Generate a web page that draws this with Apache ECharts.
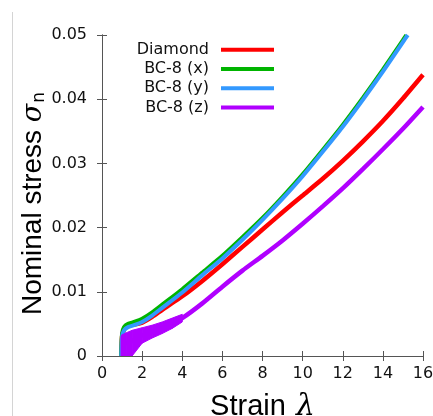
<!DOCTYPE html>
<html>
<head>
<meta charset="utf-8">
<script src="https://cdn.jsdelivr.net/npm/echarts@6/dist/echarts.min.js"></script>
<style>
  html, body { margin: 0; padding: 0; background: #fff; }
  #chart { width: 433px; height: 416px; }
</style>
</head>
<body>
<div id="chart"></div>
<script>
// Nominal stress versus strain for diamond and BC-8 (three loading directions)
const seriesNames = ['Diamond', 'BC-8 (x)', 'BC-8 (y)', 'BC-8 (z)'];
const seriesColors = ['#ff0000', '#00b400', '#3399ff', '#b000ff'];

const xTicks = [0, 2, 4, 6, 8, 10, 12, 14, 16];
const yTicks = [0, 0.01, 0.02, 0.03, 0.04, 0.05];

const lambdaDiamond = [0.97, 1.0, 1.1, 1.25, 1.6, 2, 2.5, 3, 4, 5, 6, 7, 8, 9, 10, 11, 12, 13, 14, 15, 16];
const sigmaDiamond  = [0, 0.0030, 0.0041, 0.0048, 0.0049, 0.0052, 0.0061, 0.0072, 0.0093, 0.0117, 0.0143, 0.0170, 0.0197, 0.0224, 0.0250, 0.0276, 0.0304, 0.0334, 0.0366, 0.0401, 0.0438];

const lambdaX = [0.95, 1.0, 1.1, 1.3, 1.6, 2, 2.5, 3, 4, 5, 6, 7, 8, 9, 10, 11, 12, 13, 14, 15, 15.17];
const sigmaX  = [0, 0.0035, 0.0045, 0.0050, 0.0053, 0.0058, 0.0068, 0.0080, 0.0104, 0.0130, 0.0156, 0.0185, 0.0215, 0.0248, 0.0283, 0.0321, 0.0360, 0.0402, 0.0446, 0.0492, 0.0500];

const lambdaY = [0.96, 1.0, 1.1, 1.3, 1.6, 2, 2.5, 3, 4, 5, 6, 7, 8, 9, 10, 11, 12, 13, 14, 15, 15.24];
const sigmaY  = [0, 0.0030, 0.0040, 0.0045, 0.0048, 0.0053, 0.0063, 0.0075, 0.0099, 0.0126, 0.0152, 0.0181, 0.0212, 0.0245, 0.0280, 0.0318, 0.0357, 0.0399, 0.0443, 0.0489, 0.0500];

const lambdaZ = [1.0, 1.2, 1.5, 2, 2.5, 3, 3.5, 4, 5, 6, 7, 8, 9, 10, 11, 12, 13, 14, 15, 16];
const sigmaZ  = [0.0018, 0.0020, 0.0024, 0.0032, 0.0038, 0.0044, 0.0051, 0.0059, 0.0082, 0.0108, 0.0133, 0.0156, 0.0180, 0.0206, 0.0233, 0.0261, 0.0291, 0.0322, 0.0354, 0.0388];

// scatter of the z-direction data at small strain (lower and upper edge)
const lambdaZSpread = [0.95, 1.0, 1.2, 1.5, 2.0, 2.5, 3.0, 3.5, 4.0];
const sigmaZLow     = [0, 0, 0, 0, 0.0020, 0.0028, 0.0035, 0.0043, 0.0053];
const sigmaZHigh    = [0.0030, 0.0033, 0.0036, 0.0040, 0.0044, 0.0048, 0.0053, 0.0059, 0.0065];

const pairs = (xs, ys) => xs.map((x, i) => [x, ys[i]]);

const curves = [
  [lambdaDiamond, sigmaDiamond],
  [lambdaX, sigmaX],
  [lambdaY, sigmaY],
  [lambdaZ, sigmaZ]
];
const lineWidths = [4.5, 4, 4, 4.5];

const axisColor = '#555';
const tickFont = 'DejaVu Sans, Verdana, sans-serif';
const titleFont = 'Liberation Sans, Arial, sans-serif';

const lineSeries = curves.map((c, i) => ({
  name: seriesNames[i],
  type: 'line',
  data: pairs(c[0], c[1]),
  showSymbol: false,
  smooth: 0.2,
  clip: true,
  color: seriesColors[i],
  lineStyle: { width: lineWidths[i], color: seriesColors[i] },
  z: 2 + i
}));

// band between the lower and upper edge of the z-direction scatter,
// one quadrilateral per pair of neighbouring samples
const spreadSegments = lambdaZSpread.slice(0, -1).map((x, i) => [
  x, sigmaZLow[i], sigmaZHigh[i],
  lambdaZSpread[i + 1], sigmaZLow[i + 1], sigmaZHigh[i + 1]
]);

const spreadSeries = {
  type: 'custom',
  data: spreadSegments,
  silent: true,
  clip: true,
  z: 6,
  renderItem: (params, api) => {
    const p1 = api.coord([api.value(0), api.value(1)]);
    const p2 = api.coord([api.value(3), api.value(4)]);
    const p3 = api.coord([api.value(3), api.value(5)]);
    const p4 = api.coord([api.value(0), api.value(2)]);
    return {
      type: 'polygon',
      shape: { points: [p1, p2, p3, p4] },
      style: { fill: seriesColors[3], stroke: seriesColors[3], lineWidth: 1 }
    };
  },
  encode: { x: [0, 3], y: [1, 2, 4, 5] }
};

const chart = echarts.init(document.getElementById('chart'), null, { renderer: 'canvas' });

const frameAxis = {
  axisLine: { show: true, lineStyle: { color: axisColor, width: 1 } },
  axisTick: { show: true, inside: true, length: 5, lineStyle: { color: axisColor } },
  splitLine: { show: false }
};

chart.setOption({
  animation: false,
  backgroundColor: '#fff',
  grid: {
    left: 102, top: 35, width: 321, height: 321,
    containLabel: false,
    outerBoundsMode: 'none'
  },
  legend: {
    data: seriesNames,
    orient: 'vertical',
    right: 159,
    top: 40,
    padding: 0,
    align: 'right',
    icon: 'rect',
    itemWidth: 53,
    itemHeight: 4,
    itemGap: 0,
    selectedMode: false,
    textStyle: {
      fontSize: 16,
      fontFamily: tickFont,
      color: '#111',
      lineHeight: 19.3,
      padding: [0, 7, 0, 0]
    }
  },
  xAxis: [
    Object.assign({
      type: 'value',
      min: xTicks[0],
      max: xTicks[xTicks.length - 1],
      interval: 2,
      position: 'bottom',
      name: '{a|Strain }{l|λ}',
      nameLocation: 'middle',
      nameGap: 36,
      nameTextStyle: {
        rich: {
          a: { fontSize: 29, fontFamily: titleFont, color: '#000' },
          l: { fontSize: 30, fontFamily: 'DejaVu Serif, serif', fontStyle: 'italic', color: '#000', padding: [0, 0, 0, 2] }
        }
      },
      axisLabel: {
        show: true,
        margin: 10,
        fontSize: 16,
        fontFamily: tickFont,
        color: '#111',
        formatter: v => String(v)
      }
    }, frameAxis),
    Object.assign({
      type: 'value',
      min: xTicks[0],
      max: xTicks[xTicks.length - 1],
      interval: 2,
      position: 'top',
      axisLabel: { show: false }
    }, frameAxis)
  ],
  yAxis: [
    Object.assign({
      type: 'value',
      min: yTicks[0],
      max: yTicks[yTicks.length - 1],
      interval: 0.01,
      position: 'left',
      name: '{a|Nominal stress }{s|σ}{n|n}',
      nameLocation: 'middle',
      nameGap: 54,
      nameMoveOverlap: false,
      nameTextStyle: {
        rich: {
          a: { fontSize: 28, fontFamily: titleFont, color: '#000' },
          s: { fontSize: 27, fontFamily: 'DejaVu Serif, serif', fontStyle: 'italic', color: '#000' },
          n: { fontSize: 17, fontFamily: 'DejaVu Sans, sans-serif', color: '#000', padding: [12, 16, 0, 1] }
        }
      },
      axisLabel: {
        show: true,
        margin: 15,
        fontSize: 16,
        fontFamily: tickFont,
        color: '#111',
        formatter: v => (v === 0 ? '0' : v.toFixed(2))
      }
    }, frameAxis),
    Object.assign({
      type: 'value',
      min: yTicks[0],
      max: yTicks[yTicks.length - 1],
      interval: 0.01,
      position: 'right',
      axisLabel: { show: false }
    }, frameAxis)
  ],
  graphic: [
    {
      type: 'line',
      shape: { x1: 12.5, y1: 12, x2: 12.5, y2: 416 },
      style: { stroke: '#d4d4d4', lineWidth: 1 },
      silent: true
    }
  ],
  series: lineSeries.concat([spreadSeries])
});
</script>
</body>
</html>
